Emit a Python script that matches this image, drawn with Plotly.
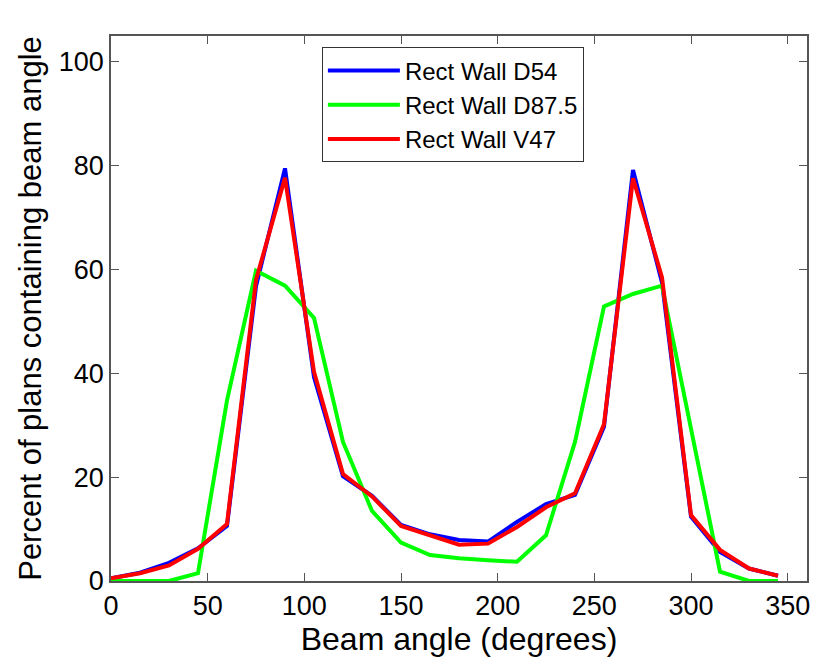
import plotly.graph_objects as go

angles = [0, 15, 30, 45, 60, 75, 90, 105, 120, 135, 150, 165,
          180, 195, 210, 225, 240, 255, 270, 285, 300, 315, 330, 345]
d54 = [0.5, 1.6, 3.5, 6.3, 10.6, 56.8, 79.5, 39.3, 20.2, 16.4, 10.8, 9.0,
       7.9, 7.6, 11.4, 14.8, 16.6, 29.7, 79.2, 57.5, 12.4, 5.6, 2.4, 1.0]
d875 = [0, 0, 0, 1.5, 34.8, 59.8, 56.9, 50.7, 26.8, 13.5, 7.4, 5.0,
        4.4, 4.0, 3.7, 8.8, 26.8, 52.9, 55.3, 56.9, 29.5, 1.8, 0, 0]
v47 = [0.5, 1.5, 3.0, 6.2, 11.0, 58.0, 77.7, 40.3, 20.6, 16.3, 10.6, 8.8,
       7.0, 7.2, 10.4, 14.2, 16.9, 30.2, 77.6, 58.5, 12.7, 6.0, 2.4, 1.0]
names = ["Rect Wall D54", "Rect Wall D87.5", "Rect Wall V47"]
colors = ["#0000ff", "#00ff00", "#ff0000"]
x_ticks = [0, 50, 100, 150, 200, 250, 300, 350]
y_ticks = [0, 20, 40, 60, 80, 100]

FONT = "Liberation Sans, Arial, Helvetica, sans-serif"
AX = "#555555"

fig = go.Figure()
for ys, nm, c in zip([d54, d875, v47], names, colors):
    fig.add_trace(go.Scatter(x=angles, y=ys, mode="lines", name=nm,
                             line=dict(color=c, width=4)))

axis_common = dict(showline=True, linecolor=AX, linewidth=1.5, mirror="ticks",
                   ticks="inside", ticklen=8, tickwidth=1, tickcolor=AX,
                   showgrid=False, zeroline=False,
                   tickfont=dict(family=FONT, size=27, color="black"))

fig.update_xaxes(range=[0, 360], tickvals=x_ticks,
                 title=dict(text="Beam angle (degrees)", standoff=5,
                            font=dict(family=FONT, size=32, color="black")),
                 **axis_common)
fig.update_yaxes(range=[0, 105], tickvals=y_ticks,
                 title=dict(text="Percent of plans containing beam angle", standoff=8,
                            font=dict(family=FONT, size=31, color="black")),
                 **axis_common)

fig.update_layout(
    width=815, height=657,
    margin=dict(l=111, r=8, t=36, b=76, autoexpand=False),
    paper_bgcolor="white", plot_bgcolor="white",
    font=dict(family=FONT, color="black"),
    legend=dict(x=0.303, y=0.979, xanchor="left", yanchor="top",
                bgcolor="white", bordercolor="#333333", borderwidth=1,
                font=dict(family=FONT, size=24, color="black"),
                itemwidth=72, tracegroupgap=0),
    showlegend=True,
)

fig.write_html("out.html", config={"displayModeBar": False},
               post_script="document.body.style.margin='0';document.body.style.overflow='hidden';")
